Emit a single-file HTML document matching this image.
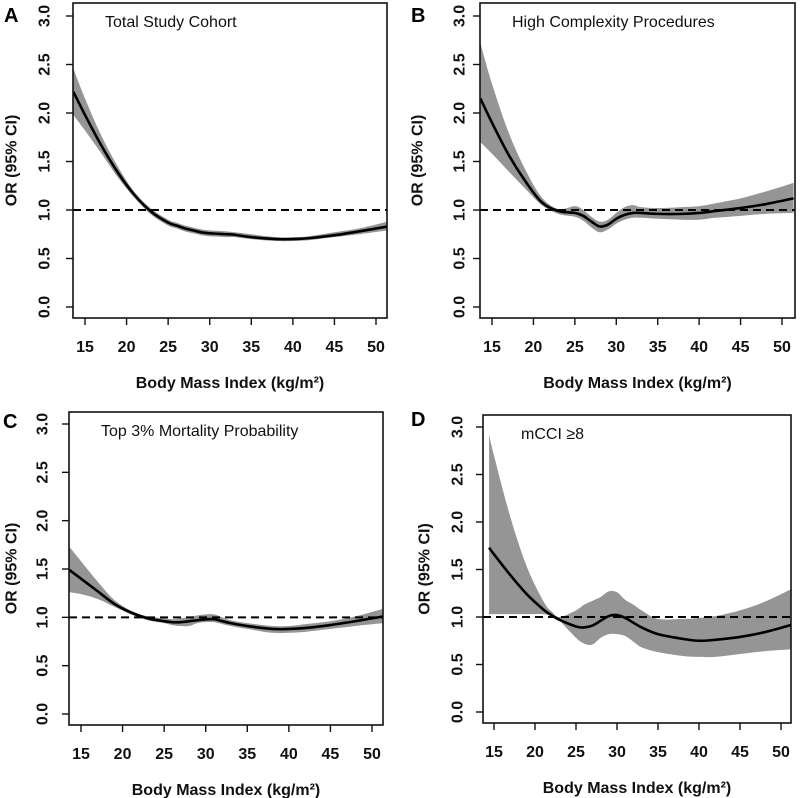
<!DOCTYPE html>
<html><head><meta charset="utf-8">
<style>
body{margin:0;background:#fff;}
svg{display:block;font-family:"Liberation Sans",Arial,sans-serif;}
</style></head>
<body>
<svg id="fig" width="800" height="798" viewBox="0 0 800 798"></svg>
<script>
const xTicks=[15,20,25,30,35,40,45,50];
const yTicks=[0,0.5,1,1.5,2,2.5,3];
const yTickLabels=["0.0","0.5","1.0","1.5","2.0","2.5","3.0"];
const panelLetters=["A","B","C","D"];
const panelTitles=["Total Study Cohort","High Complexity Procedures","Top 3% Mortality Probability","mCCI \u22658"];
const bmiA=[13.6,15,17,19,21,23,25,26,27,28,29,30,31,32,33,35,38,40,42,45,48,51.4];
const estA=[2.22,1.98,1.66,1.38,1.15,0.98,0.87,0.84,0.81,0.79,0.77,0.76,0.755,0.75,0.745,0.72,0.70,0.70,0.71,0.74,0.78,0.83];
const loA=[1.98,1.82,1.58,1.33,1.12,0.95,0.84,0.81,0.78,0.76,0.74,0.73,0.725,0.72,0.72,0.70,0.68,0.68,0.69,0.72,0.75,0.79];
const hiA=[2.46,2.15,1.76,1.44,1.18,1.01,0.90,0.87,0.84,0.82,0.80,0.79,0.785,0.78,0.77,0.75,0.72,0.72,0.73,0.77,0.81,0.88];
const bmiB=bmiA;
const estB=[2.15,1.90,1.57,1.30,1.08,0.99,0.97,0.94,0.88,0.83,0.85,0.91,0.95,0.97,0.97,0.96,0.96,0.97,0.99,1.02,1.06,1.12];
const loB=[1.70,1.58,1.40,1.22,1.05,0.96,0.93,0.89,0.82,0.77,0.80,0.86,0.90,0.92,0.92,0.91,0.90,0.90,0.92,0.94,0.96,0.97];
const hiB=[2.72,2.30,1.80,1.42,1.13,1.01,1.04,1.00,0.93,0.88,0.90,0.97,1.03,1.05,1.03,1.02,1.03,1.04,1.07,1.12,1.19,1.28];
const bmiC=bmiA;
const estC=[1.49,1.40,1.27,1.14,1.05,0.99,0.96,0.95,0.95,0.96,0.97,0.98,0.98,0.96,0.94,0.91,0.88,0.88,0.89,0.92,0.96,1.01];
const loC=[1.26,1.24,1.19,1.11,1.03,0.97,0.94,0.92,0.91,0.91,0.94,0.95,0.95,0.93,0.91,0.88,0.84,0.84,0.85,0.88,0.91,0.94];
const hiC=[1.73,1.58,1.37,1.18,1.07,1.01,0.99,0.98,0.99,1.00,1.02,1.03,1.03,1.00,0.97,0.94,0.91,0.91,0.93,0.96,1.01,1.09];
const bmiD=[14.4,15,17,19,21,22,23,25,26,27,28,29,30,31,32,33,35,38,40,42,45,48,51.4];
const estD=[1.73,1.66,1.44,1.24,1.08,1.02,0.97,0.90,0.89,0.91,0.96,1.01,1.02,0.99,0.94,0.89,0.82,0.77,0.75,0.76,0.79,0.84,0.92];
const loD=[1.03,1.03,1.03,1.03,1.03,1.01,0.96,0.78,0.72,0.71,0.78,0.82,0.82,0.80,0.74,0.68,0.63,0.59,0.58,0.58,0.61,0.64,0.66];
const hiD=[2.92,2.70,2.05,1.53,1.17,1.06,1.00,1.07,1.13,1.17,1.21,1.27,1.26,1.18,1.13,1.07,0.98,0.98,0.99,1.01,1.07,1.16,1.30];

const NS="http://www.w3.org/2000/svg";
const svg=document.getElementById('fig');
function mk(tag,attrs,parent){const e=document.createElementNS(NS,tag);for(const k in attrs)e.setAttribute(k,attrs[k]);(parent||svg).appendChild(e);return e;}
function smooth(pts){let d="M"+pts[0][0]+","+pts[0][1];
 for(let i=0;i<pts.length-1;i++){const p0=pts[Math.max(0,i-1)],p1=pts[i],p2=pts[i+1],p3=pts[Math.min(pts.length-1,i+2)];
  const c1=[p1[0]+(p2[0]-p0[0])/6,p1[1]+(p2[1]-p0[1])/6],c2=[p2[0]-(p3[0]-p1[0])/6,p2[1]-(p3[1]-p1[1])/6];
  d+=" C"+c1[0]+","+c1[1]+" "+c2[0]+","+c2[1]+" "+p2[0]+","+p2[1];}
 return d;}
function smoothCont(pts){return smooth(pts).replace(/^M/,"L");}

const geo=[
 {L:73,R:387,T:3,B:318,x15:85,x50:376,y0:307,y3:16,tickY:352,titleY:388,ylabX:45,ytitX:12,letX:4,letY:22},
 {L:480,R:795,T:3,B:318,x15:492,x50:782,y0:307,y3:16,tickY:352,titleY:388,ylabX:460,ytitX:418,letX:411,letY:22},
 {L:69,R:383,T:412,B:725,x15:81,x50:372,y0:714,y3:424,tickY:759,titleY:795,ylabX:43,ytitX:12,letX:3,letY:428},
 {L:483,R:791,T:415,B:723,x15:494,x50:781,y0:712,y3:427,tickY:757,titleY:793,ylabX:458,ytitX:425,letX:411,letY:426}
];
const data=[[bmiA,estA,loA,hiA],[bmiB,estB,loB,hiB],[bmiC,estC,loC,hiC],[bmiD,estD,loD,hiD]];
const keys=["a","b","c","d"];

geo.forEach((g,i)=>{
 const k=keys[i];
 const xs=v=>g.x15+(v-15)*(g.x50-g.x15)/35;
 const ys=v=>g.y0+(v)*(g.y3-g.y0)/3;
 const grp=mk('g',{});
 
 
 const cp=mk('clipPath',{id:'clip'+k},grp);
 mk('rect',{x:g.L,y:g.T,width:g.R-g.L,height:g.B-g.T},cp);
 const [bx,est,lo,hi]=data[i];
 const up=bx.map((v,j)=>[xs(v),ys(hi[j])]);
 const dn=bx.map((v,j)=>[xs(v),ys(lo[j])]).reverse();
 const band=mk('path',{d:smooth(up)+" "+smoothCont(dn)+" Z",fill:"#959595","clip-path":"url(#clip"+k+")"},grp);
 
 
 const ref=mk('line',{x1:g.L,x2:g.R,y1:ys(1),y2:ys(1),stroke:"#000","stroke-width":2,"stroke-dasharray":"8,5"},grp);
 
 
 const line=mk('path',{d:smooth(bx.map((v,j)=>[xs(v),ys(est[j])])),fill:"none",stroke:"#000","stroke-width":2.6,"clip-path":"url(#clip"+k+")"},grp);
 
 
 const box=mk('rect',{x:g.L,y:g.T,width:g.R-g.L,height:g.B-g.T,fill:"none",stroke:"#111","stroke-width":1.6},grp);
 
 
 xTicks.forEach(t=>{
  const x=xs(t);
  mk('line',{x1:x,x2:x,y1:g.B,y2:g.B+7,stroke:"#111","stroke-width":1.4},grp);
  const tx=mk('text',{x:x,y:g.tickY,"text-anchor":"middle","font-size":16,"font-weight":"bold",fill:"#111"},grp);
  tx.textContent=t;
  
  
 });
 yTicks.forEach((t,j)=>{
  const y=ys(t);
  mk('line',{x1:g.L-7,x2:g.L,y1:y,y2:y,stroke:"#111","stroke-width":1.4},grp);
  const tx=mk('text',{x:g.ylabX,y:y,"text-anchor":"middle","dominant-baseline":"central","font-size":16,"font-weight":"bold",fill:"#111",transform:"rotate(-90 "+g.ylabX+" "+y+")"},grp);
  tx.textContent=yTickLabels[j];
  
  
 });
 const midY=(g.T+g.B)/2;
 const yt=mk('text',{x:g.ytitX,y:midY,"text-anchor":"middle","dominant-baseline":"central","font-size":16,"font-weight":"bold",fill:"#111",transform:"rotate(-90 "+g.ytitX+" "+midY+")"},grp);
 yt.textContent="OR (95% CI)";
 
 
 const xt=mk('text',{x:(g.L+g.R)/2,y:g.titleY,"text-anchor":"middle","font-size":16,"font-weight":"bold",fill:"#111"},grp);
 xt.textContent="Body Mass Index (kg/m\u00b2)";
 
 
 const lt=mk('text',{x:g.letX,y:g.letY,"font-size":20,"font-weight":"bold",fill:"#000"},grp);
 lt.textContent=panelLetters[i];
 
 
 const pt=mk('text',{x:i===3?g.L+38:g.L+32,y:g.T+24,"font-size":16,fill:"#111"},grp);
 pt.textContent=panelTitles[i];
 
 
});
</script>
</body></html>
